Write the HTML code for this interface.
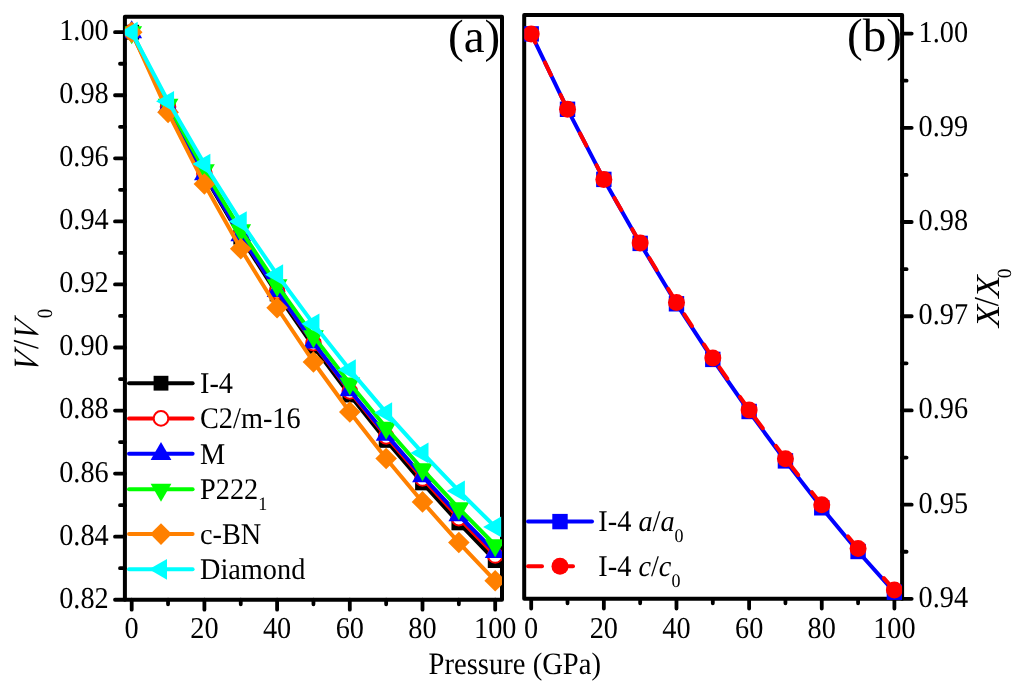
<!DOCTYPE html>
<html><head><meta charset="utf-8"><style>
html,body{margin:0;padding:0;background:#fff;}
svg{display:block;will-change:transform;}
text{font-family:"Liberation Serif",serif;fill:#000;text-rendering:geometricPrecision;}
</style></head><body>
<svg width="1024" height="689" viewBox="0 0 1024 689">
<defs><clipPath id="ca"><rect x="124.9" y="16.8" width="377.1" height="582.9000000000001"/></clipPath><clipPath id="cb"><rect x="524.2" y="15.0" width="377.9" height="585.0"/></clipPath></defs>
<rect width="1024" height="689" fill="#fff"/>
<rect x="124.9" y="16.8" width="377.1" height="582.9000000000001" fill="none" stroke="#000" stroke-width="4" stroke-linejoin="round"/>
<rect x="524.2" y="15.0" width="377.9" height="583.8" fill="none" stroke="#000" stroke-width="4" stroke-linejoin="round"/>
<path d="M124.9,32.20H115.0M124.9,63.73H120.0M124.9,95.26H115.0M124.9,126.79H120.0M124.9,158.32H115.0M124.9,189.85H120.0M124.9,221.38H115.0M124.9,252.91H120.0M124.9,284.44H115.0M124.9,315.97H120.0M124.9,347.50H115.0M124.9,379.03H120.0M124.9,410.56H115.0M124.9,442.09H120.0M124.9,473.62H115.0M124.9,505.15H120.0M124.9,536.68H115.0M124.9,568.21H120.0M124.9,599.74H115.0M131.70,599.7V609.7M168.05,599.7V604.3M204.40,599.7V609.7M240.75,599.7V604.3M277.10,599.7V609.7M313.45,599.7V604.3M349.80,599.7V609.7M386.15,599.7V604.3M422.50,599.7V609.7M458.85,599.7V604.3M495.20,599.7V609.7M902.1,33.60H911.7M902.1,80.71H906.6M902.1,127.81H911.7M902.1,174.92H906.6M902.1,222.02H911.7M902.1,269.13H906.6M902.1,316.23H911.7M902.1,363.34H906.6M902.1,410.44H911.7M902.1,457.55H906.6M902.1,504.65H911.7M902.1,551.76H906.6M902.1,598.86H911.7M531.20,598.8V608.5M567.52,598.8V603.3M603.84,598.8V608.5M640.16,598.8V603.3M676.48,598.8V608.5M712.80,598.8V603.3M749.12,598.8V608.5M785.44,598.8V603.3M821.76,598.8V608.5M858.08,598.8V603.3M894.40,598.8V608.5" stroke="#000" stroke-width="3.8" stroke-linecap="round" fill="none"/>
<g clip-path="url(#ca)">
<polyline points="131.70,32.20 168.05,107.45 204.40,175.36 240.75,237.21 277.10,293.96 313.45,346.37 349.80,395.03 386.15,440.42 422.50,482.94 458.85,522.91 495.20,560.61" fill="none" stroke="#000000" stroke-width="4" stroke-linejoin="round" stroke-linecap="round"/>
<rect x="124.30" y="24.80" width="14.80" height="14.80" fill="#000000"/>
<rect x="160.65" y="100.05" width="14.80" height="14.80" fill="#000000"/>
<rect x="197.00" y="167.96" width="14.80" height="14.80" fill="#000000"/>
<rect x="233.35" y="229.81" width="14.80" height="14.80" fill="#000000"/>
<rect x="269.70" y="286.56" width="14.80" height="14.80" fill="#000000"/>
<rect x="306.05" y="338.97" width="14.80" height="14.80" fill="#000000"/>
<rect x="342.40" y="387.63" width="14.80" height="14.80" fill="#000000"/>
<rect x="378.75" y="433.02" width="14.80" height="14.80" fill="#000000"/>
<rect x="415.10" y="475.54" width="14.80" height="14.80" fill="#000000"/>
<rect x="451.45" y="515.51" width="14.80" height="14.80" fill="#000000"/>
<rect x="487.80" y="553.21" width="14.80" height="14.80" fill="#000000"/>
<polyline points="131.70,32.20 168.05,106.64 204.40,173.85 240.75,235.07 277.10,291.27 313.45,343.17 349.80,391.37 386.15,436.34 422.50,478.48 458.85,518.09 495.20,555.46" fill="none" stroke="#ff0000" stroke-width="4" stroke-linejoin="round" stroke-linecap="round"/>
<circle cx="131.70" cy="32.20" r="7.3" fill="#fff" stroke="#ff0000" stroke-width="2"/>
<circle cx="168.05" cy="106.64" r="7.3" fill="#fff" stroke="#ff0000" stroke-width="2"/>
<circle cx="204.40" cy="173.85" r="7.3" fill="#fff" stroke="#ff0000" stroke-width="2"/>
<circle cx="240.75" cy="235.07" r="7.3" fill="#fff" stroke="#ff0000" stroke-width="2"/>
<circle cx="277.10" cy="291.27" r="7.3" fill="#fff" stroke="#ff0000" stroke-width="2"/>
<circle cx="313.45" cy="343.17" r="7.3" fill="#fff" stroke="#ff0000" stroke-width="2"/>
<circle cx="349.80" cy="391.37" r="7.3" fill="#fff" stroke="#ff0000" stroke-width="2"/>
<circle cx="386.15" cy="436.34" r="7.3" fill="#fff" stroke="#ff0000" stroke-width="2"/>
<circle cx="422.50" cy="478.48" r="7.3" fill="#fff" stroke="#ff0000" stroke-width="2"/>
<circle cx="458.85" cy="518.09" r="7.3" fill="#fff" stroke="#ff0000" stroke-width="2"/>
<circle cx="495.20" cy="555.46" r="7.3" fill="#fff" stroke="#ff0000" stroke-width="2"/>
<polyline points="131.70,32.20 168.05,106.94 204.40,174.17 240.75,235.20 277.10,291.07 313.45,342.55 349.80,390.25 386.15,434.67 422.50,476.22 458.85,515.23 495.20,551.97" fill="none" stroke="#0000ff" stroke-width="4" stroke-linejoin="round" stroke-linecap="round"/>
<polygon points="131.70,20.19 142.10,38.20 121.30,38.20" fill="#0000ff"/>
<polygon points="168.05,94.94 178.45,112.95 157.65,112.95" fill="#0000ff"/>
<polygon points="204.40,162.16 214.80,180.17 194.00,180.17" fill="#0000ff"/>
<polygon points="240.75,223.20 251.15,241.21 230.35,241.21" fill="#0000ff"/>
<polygon points="277.10,279.06 287.50,297.08 266.70,297.08" fill="#0000ff"/>
<polygon points="313.45,330.54 323.85,348.55 303.05,348.55" fill="#0000ff"/>
<polygon points="349.80,378.24 360.20,396.26 339.40,396.26" fill="#0000ff"/>
<polygon points="386.15,422.67 396.55,440.68 375.75,440.68" fill="#0000ff"/>
<polygon points="422.50,464.21 432.90,482.23 412.10,482.23" fill="#0000ff"/>
<polygon points="458.85,503.22 469.25,521.23 448.45,521.23" fill="#0000ff"/>
<polygon points="495.20,539.96 505.60,557.97 484.80,557.97" fill="#0000ff"/>
<polyline points="131.70,32.20 168.05,104.66 204.40,170.26 240.75,230.14 277.10,285.21 313.45,336.15 349.80,383.52 386.15,427.78 422.50,469.28 458.85,508.35 495.20,545.23" fill="none" stroke="#00ff00" stroke-width="4" stroke-linejoin="round" stroke-linecap="round"/>
<polygon points="131.70,44.21 142.10,26.20 121.30,26.20" fill="#00ff00"/>
<polygon points="168.05,116.67 178.45,98.66 157.65,98.66" fill="#00ff00"/>
<polygon points="204.40,182.26 214.80,164.25 194.00,164.25" fill="#00ff00"/>
<polygon points="240.75,242.15 251.15,224.14 230.35,224.14" fill="#00ff00"/>
<polygon points="277.10,297.22 287.50,279.20 266.70,279.20" fill="#00ff00"/>
<polygon points="313.45,348.16 323.85,330.15 303.05,330.15" fill="#00ff00"/>
<polygon points="349.80,395.53 360.20,377.52 339.40,377.52" fill="#00ff00"/>
<polygon points="386.15,439.79 396.55,421.77 375.75,421.77" fill="#00ff00"/>
<polygon points="422.50,481.29 432.90,463.28 412.10,463.28" fill="#00ff00"/>
<polygon points="458.85,520.35 469.25,502.34 448.45,502.34" fill="#00ff00"/>
<polygon points="495.20,557.23 505.60,539.22 484.80,539.22" fill="#00ff00"/>
<polyline points="131.70,32.20 168.05,112.34 204.40,183.99 240.75,248.74 277.10,307.75 313.45,361.95 349.80,412.01 386.15,458.52 422.50,501.91 458.85,542.56 495.20,580.78" fill="none" stroke="#ff8000" stroke-width="4" stroke-linejoin="round" stroke-linecap="round"/>
<polygon points="131.70,21.40 142.50,32.20 131.70,43.00 120.90,32.20" fill="#ff8000"/>
<polygon points="168.05,101.54 178.85,112.34 168.05,123.14 157.25,112.34" fill="#ff8000"/>
<polygon points="204.40,173.19 215.20,183.99 204.40,194.79 193.60,183.99" fill="#ff8000"/>
<polygon points="240.75,237.94 251.55,248.74 240.75,259.54 229.95,248.74" fill="#ff8000"/>
<polygon points="277.10,296.95 287.90,307.75 277.10,318.55 266.30,307.75" fill="#ff8000"/>
<polygon points="313.45,351.15 324.25,361.95 313.45,372.75 302.65,361.95" fill="#ff8000"/>
<polygon points="349.80,401.21 360.60,412.01 349.80,422.81 339.00,412.01" fill="#ff8000"/>
<polygon points="386.15,447.72 396.95,458.52 386.15,469.32 375.35,458.52" fill="#ff8000"/>
<polygon points="422.50,491.11 433.30,501.91 422.50,512.71 411.70,501.91" fill="#ff8000"/>
<polygon points="458.85,531.76 469.65,542.56 458.85,553.36 448.05,542.56" fill="#ff8000"/>
<polygon points="495.20,569.98 506.00,580.78 495.20,591.58 484.40,580.78" fill="#ff8000"/>
<polyline points="131.70,32.20 168.05,101.29 204.40,164.09 240.75,221.62 277.10,274.67 313.45,323.87 349.80,369.72 386.15,412.64 422.50,452.96 458.85,490.96 495.20,526.89" fill="none" stroke="#00ffff" stroke-width="4" stroke-linejoin="round" stroke-linecap="round"/>
<polygon points="119.69,32.20 137.70,21.80 137.70,42.60" fill="#00ffff"/>
<polygon points="156.04,101.29 174.05,90.89 174.05,111.69" fill="#00ffff"/>
<polygon points="192.39,164.09 210.40,153.69 210.40,174.49" fill="#00ffff"/>
<polygon points="228.74,221.62 246.75,211.22 246.75,232.02" fill="#00ffff"/>
<polygon points="265.09,274.67 283.10,264.27 283.10,285.07" fill="#00ffff"/>
<polygon points="301.44,323.87 319.45,313.47 319.45,334.27" fill="#00ffff"/>
<polygon points="337.79,369.72 355.80,359.32 355.80,380.12" fill="#00ffff"/>
<polygon points="374.14,412.64 392.15,402.24 392.15,423.04" fill="#00ffff"/>
<polygon points="410.49,452.96 428.50,442.56 428.50,463.36" fill="#00ffff"/>
<polygon points="446.84,490.96 464.85,480.56 464.85,501.36" fill="#00ffff"/>
<polygon points="483.19,526.89 501.20,516.49 501.20,537.29" fill="#00ffff"/>
</g>
<g clip-path="url(#cb)">
<polyline points="531.20,33.90 567.52,109.30 603.84,179.40 640.16,243.40 676.48,303.80 712.80,359.40 749.12,411.50 785.44,460.90 821.76,507.80 858.08,551.50 894.40,592.20" fill="none" stroke="#0000ff" stroke-width="4" stroke-linejoin="round" stroke-linecap="round"/>
<rect x="523.50" y="26.20" width="15.40" height="15.40" fill="#0000ff"/>
<rect x="559.82" y="101.60" width="15.40" height="15.40" fill="#0000ff"/>
<rect x="596.14" y="171.70" width="15.40" height="15.40" fill="#0000ff"/>
<rect x="632.46" y="235.70" width="15.40" height="15.40" fill="#0000ff"/>
<rect x="668.78" y="296.10" width="15.40" height="15.40" fill="#0000ff"/>
<rect x="705.10" y="351.70" width="15.40" height="15.40" fill="#0000ff"/>
<rect x="741.42" y="403.80" width="15.40" height="15.40" fill="#0000ff"/>
<rect x="777.74" y="453.20" width="15.40" height="15.40" fill="#0000ff"/>
<rect x="814.06" y="500.10" width="15.40" height="15.40" fill="#0000ff"/>
<rect x="850.38" y="543.80" width="15.40" height="15.40" fill="#0000ff"/>
<rect x="886.70" y="584.50" width="15.40" height="15.40" fill="#0000ff"/>
<path d="M567.52,109.30L531.20,33.90" stroke="#ff0000" stroke-width="4" stroke-dasharray="14 22" stroke-dashoffset="-2" stroke-linecap="round" fill="none"/>
<path d="M603.84,179.40L567.52,109.30" stroke="#ff0000" stroke-width="4" stroke-dasharray="14 22" stroke-dashoffset="-2" stroke-linecap="round" fill="none"/>
<path d="M640.16,243.10L603.84,179.40" stroke="#ff0000" stroke-width="4" stroke-dasharray="14 22" stroke-dashoffset="-2" stroke-linecap="round" fill="none"/>
<path d="M676.48,302.40L640.16,243.10" stroke="#ff0000" stroke-width="4" stroke-dasharray="14 22" stroke-dashoffset="-2" stroke-linecap="round" fill="none"/>
<path d="M712.80,357.90L676.48,302.40" stroke="#ff0000" stroke-width="4" stroke-dasharray="14 22" stroke-dashoffset="-2" stroke-linecap="round" fill="none"/>
<path d="M749.12,409.90L712.80,357.90" stroke="#ff0000" stroke-width="4" stroke-dasharray="14 22" stroke-dashoffset="-2" stroke-linecap="round" fill="none"/>
<path d="M785.44,458.70L749.12,409.90" stroke="#ff0000" stroke-width="4" stroke-dasharray="14 22" stroke-dashoffset="-2" stroke-linecap="round" fill="none"/>
<path d="M821.76,504.80L785.44,458.70" stroke="#ff0000" stroke-width="4" stroke-dasharray="14 22" stroke-dashoffset="-2" stroke-linecap="round" fill="none"/>
<path d="M858.08,548.60L821.76,504.80" stroke="#ff0000" stroke-width="4" stroke-dasharray="14 1000" stroke-dashoffset="-2" stroke-linecap="round" fill="none"/>
<path d="M894.40,590.10L858.08,548.60" stroke="#ff0000" stroke-width="4" stroke-dasharray="14 1000" stroke-dashoffset="-2" stroke-linecap="round" fill="none"/>
<circle cx="531.20" cy="33.90" r="8.5" fill="#ff0000"/>
<circle cx="567.52" cy="109.30" r="8.5" fill="#ff0000"/>
<circle cx="603.84" cy="179.40" r="8.5" fill="#ff0000"/>
<circle cx="640.16" cy="243.10" r="8.5" fill="#ff0000"/>
<circle cx="676.48" cy="302.40" r="8.5" fill="#ff0000"/>
<circle cx="712.80" cy="357.90" r="8.5" fill="#ff0000"/>
<circle cx="749.12" cy="409.90" r="8.5" fill="#ff0000"/>
<circle cx="785.44" cy="458.70" r="8.5" fill="#ff0000"/>
<circle cx="821.76" cy="504.80" r="8.5" fill="#ff0000"/>
<circle cx="858.08" cy="548.60" r="8.5" fill="#ff0000"/>
<circle cx="894.40" cy="590.10" r="8.5" fill="#ff0000"/>
</g>
<line x1="129" y1="383.2" x2="192.6" y2="383.2" stroke="#000000" stroke-width="4" stroke-linecap="round"/>
<rect x="153.60" y="375.80" width="14.80" height="14.80" fill="#000000"/>
<text transform="translate(200.00,393.00) scale(1,1.06)" font-size="28.3">I-4</text>
<line x1="129" y1="418.4" x2="192.6" y2="418.4" stroke="#ff0000" stroke-width="4" stroke-linecap="round"/>
<circle cx="161.00" cy="418.40" r="7.3" fill="#fff" stroke="#ff0000" stroke-width="2"/>
<text transform="translate(200.00,428.20) scale(1,1.06)" font-size="28.3">C2/m-16</text>
<line x1="129" y1="453.7" x2="192.6" y2="453.7" stroke="#0000ff" stroke-width="4" stroke-linecap="round"/>
<polygon points="161.00,441.99 171.40,460.00 150.60,460.00" fill="#0000ff"/>
<text transform="translate(200.00,463.50) scale(1,1.06)" font-size="28.3">M</text>
<line x1="129" y1="489.3" x2="192.6" y2="489.3" stroke="#00ff00" stroke-width="4" stroke-linecap="round"/>
<polygon points="161.00,501.81 171.40,483.80 150.60,483.80" fill="#00ff00"/>
<text transform="translate(200.00,499.10) scale(1,1.06)" font-size="28.3">P222<tspan font-size="18" dy="10.5">1</tspan></text>
<line x1="129" y1="534.1" x2="192.6" y2="534.1" stroke="#ff8000" stroke-width="4" stroke-linecap="round"/>
<polygon points="161.00,523.30 171.80,534.10 161.00,544.90 150.20,534.10" fill="#ff8000"/>
<text transform="translate(200.00,543.90) scale(1,1.06)" font-size="28.3">c-BN</text>
<line x1="129" y1="569.3" x2="192.6" y2="569.3" stroke="#00ffff" stroke-width="4" stroke-linecap="round"/>
<polygon points="148.99,569.30 167.00,558.90 167.00,579.70" fill="#00ffff"/>
<text transform="translate(200.00,579.10) scale(1,1.06)" font-size="28.3">Diamond</text>
<line x1="528" y1="521.6" x2="592" y2="521.6" stroke="#0000ff" stroke-width="4" stroke-linecap="round"/>
<rect x="552.30" y="513.90" width="15.40" height="15.40" fill="#0000ff"/>
<text transform="translate(598.30,531.00) scale(1,1.06)" font-size="28.3">I-4 <tspan font-style="italic">a</tspan>/<tspan font-style="italic">a</tspan><tspan font-size="18" dy="10.5">0</tspan></text>
<line x1="528" y1="566.2" x2="542" y2="566.2" stroke="#ff0000" stroke-width="4" stroke-linecap="round"/>
<line x1="556" y1="566.2" x2="573" y2="566.2" stroke="#ff0000" stroke-width="4" stroke-linecap="round"/>
<circle cx="560.00" cy="566.30" r="8.5" fill="#ff0000"/>
<text transform="translate(598.30,575.60) scale(1,1.06)" font-size="28.3">I-4 <tspan font-style="italic">c</tspan>/<tspan font-style="italic">c</tspan><tspan font-size="18" dy="10.5">0</tspan></text>
<text transform="translate(108.70,40.10) scale(1,1.07)" font-size="28.3" text-anchor="end">1.00</text>
<text transform="translate(108.70,103.16) scale(1,1.07)" font-size="28.3" text-anchor="end">0.98</text>
<text transform="translate(108.70,166.22) scale(1,1.07)" font-size="28.3" text-anchor="end">0.96</text>
<text transform="translate(108.70,229.28) scale(1,1.07)" font-size="28.3" text-anchor="end">0.94</text>
<text transform="translate(108.70,292.34) scale(1,1.07)" font-size="28.3" text-anchor="end">0.92</text>
<text transform="translate(108.70,355.40) scale(1,1.07)" font-size="28.3" text-anchor="end">0.90</text>
<text transform="translate(108.70,418.46) scale(1,1.07)" font-size="28.3" text-anchor="end">0.88</text>
<text transform="translate(108.70,481.52) scale(1,1.07)" font-size="28.3" text-anchor="end">0.86</text>
<text transform="translate(108.70,544.58) scale(1,1.07)" font-size="28.3" text-anchor="end">0.84</text>
<text transform="translate(108.70,607.64) scale(1,1.07)" font-size="28.3" text-anchor="end">0.82</text>
<text transform="translate(131.70,638.00) scale(1,1.07)" font-size="28.3" text-anchor="middle">0</text>
<text transform="translate(204.40,638.00) scale(1,1.07)" font-size="28.3" text-anchor="middle">20</text>
<text transform="translate(277.10,638.00) scale(1,1.07)" font-size="28.3" text-anchor="middle">40</text>
<text transform="translate(349.80,638.00) scale(1,1.07)" font-size="28.3" text-anchor="middle">60</text>
<text transform="translate(422.50,638.00) scale(1,1.07)" font-size="28.3" text-anchor="middle">80</text>
<text transform="translate(495.20,638.00) scale(1,1.07)" font-size="28.3" text-anchor="middle">100</text>
<text transform="translate(531.20,638.00) scale(1,1.07)" font-size="28.3" text-anchor="middle">0</text>
<text transform="translate(603.84,638.00) scale(1,1.07)" font-size="28.3" text-anchor="middle">20</text>
<text transform="translate(676.48,638.00) scale(1,1.07)" font-size="28.3" text-anchor="middle">40</text>
<text transform="translate(749.12,638.00) scale(1,1.07)" font-size="28.3" text-anchor="middle">60</text>
<text transform="translate(821.76,638.00) scale(1,1.07)" font-size="28.3" text-anchor="middle">80</text>
<text transform="translate(894.40,638.00) scale(1,1.07)" font-size="28.3" text-anchor="middle">100</text>
<text transform="translate(918.60,41.50) scale(1,1.07)" font-size="28.3">1.00</text>
<text transform="translate(918.60,135.71) scale(1,1.07)" font-size="28.3">0.99</text>
<text transform="translate(918.60,229.92) scale(1,1.07)" font-size="28.3">0.98</text>
<text transform="translate(918.60,324.13) scale(1,1.07)" font-size="28.3">0.97</text>
<text transform="translate(918.60,418.34) scale(1,1.07)" font-size="28.3">0.96</text>
<text transform="translate(918.60,512.55) scale(1,1.07)" font-size="28.3">0.95</text>
<text transform="translate(918.60,606.76) scale(1,1.07)" font-size="28.3">0.94</text>
<text transform="translate(428.60,673.50) scale(1,1.09)" font-size="28.6">Pressure (GPa)</text>
<text transform="translate(448.00,52.00) scale(1,1.0)" font-size="47">(a)</text>
<text transform="translate(847.00,51.30) scale(1,1.0)" font-size="47">(b)</text>
<text transform="translate(37.66,373.88) rotate(-90) scale(1.0104,1.1892) skewX(-18)" font-size="30" font-style="italic">V</text>
<text transform="translate(37.84,349.00) rotate(-90) scale(1.1038,1.2208)" font-size="30">/</text>
<text transform="translate(37.66,342.60) rotate(-90) scale(1.0004,1.1892) skewX(-18)" font-size="30" font-style="italic">V</text>
<text transform="translate(51.59,318.13) rotate(-90) scale(0.6371,0.7261)" font-size="30">0</text>
<text transform="translate(998.50,327.27) rotate(-90) scale(1.2323,1.1200)" font-size="30" font-style="italic">X</text>
<text transform="translate(998.46,306.20) rotate(-90) scale(1.1038,1.1660)" font-size="30">/</text>
<text transform="translate(998.50,297.87) rotate(-90) scale(1.2323,1.1200)" font-size="30" font-style="italic">X</text>
<text transform="translate(1010.60,278.14) rotate(-90) scale(0.6449,0.6718)" font-size="30">0</text>
</svg>
</body></html>
